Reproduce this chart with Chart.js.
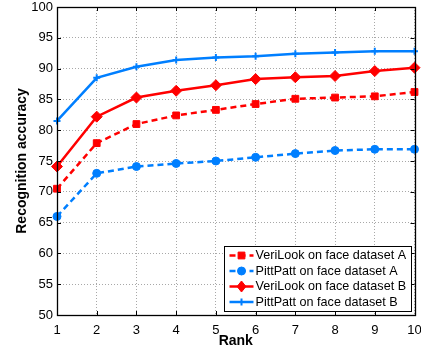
<!DOCTYPE html>
<html>
<head>
<meta charset="utf-8">
<script src="https://cdn.jsdelivr.net/npm/chart.js@4/dist/chart.umd.min.js"></script>
<style>
  html, body { margin: 0; padding: 0; background: #fff; }
  #wrap { width: 421px; height: 351px; }
</style>
</head>
<body>
<div id="wrap"><canvas id="c" width="421" height="351"></canvas></div>
<script>
const ranks = ['1','2','3','4','5','6','7','8','9','10'];
const yTicks = [50,55,60,65,70,75,80,85,90,95,100];
const seriesLabels = [
  'VeriLook on face dataset A',
  'PittPatt on face dataset A',
  'VeriLook on face dataset B',
  'PittPatt on face dataset B'
];
const veriLookA = [70.5, 77.9, 81.0, 82.4, 83.3, 84.25, 85.1, 85.3, 85.5, 86.2];
const pittPattA = [66.0, 73.0, 74.1, 74.6, 75.0, 75.6, 76.2, 76.7, 76.9, 76.9];
const veriLookB = [74.1, 82.2, 85.3, 86.4, 87.3, 88.3, 88.6, 88.8, 89.6, 90.15];
const pittPattB = [81.5, 88.5, 90.3, 91.4, 91.8, 92.0, 92.4, 92.6, 92.8, 92.8];

const RED = '#ff0000';
const BLUE = 'rgb(0,127,255)';
const FONT = '"Liberation Sans", Arial, Helvetica, sans-serif';

function ds(label, data, color, style, radius, dashed, bw) {
  return {
    label, data,
    borderColor: color, backgroundColor: color,
    pointBackgroundColor: color, pointBorderColor: color,
    pointStyle: style, pointRadius: radius, pointHoverRadius: radius,
    pointBorderWidth: bw,
    borderWidth: 2.5, borderDash: dashed ? [6, 4] : [],
    tension: 0, fill: false
  };
}

const datasets = [
  ds(seriesLabels[0], veriLookA, RED, 'rect', 4.8, true, 1),
  ds(seriesLabels[1], pittPattA, BLUE, 'circle', 4, true, 1),
  ds(seriesLabels[2], veriLookB, RED, 'rectRot', 5.5, false, 1),
  ds(seriesLabels[3], pittPattB, BLUE, 'cross', 3.5, false, 2)
];

function drawMarker(ctx, style, x, y, r, color, bw) {
  ctx.save();
  ctx.fillStyle = color; ctx.strokeStyle = color; ctx.lineWidth = bw; ctx.setLineDash([]);
  ctx.beginPath();
  if (style === 'rect') {
    const s = r * Math.SQRT1_2;
    ctx.rect(x - s, y - s, 2 * s, 2 * s); ctx.fill(); ctx.stroke();
  } else if (style === 'circle') {
    ctx.arc(x, y, r, 0, Math.PI * 2); ctx.fill(); ctx.stroke();
  } else if (style === 'rectRot') {
    ctx.moveTo(x, y - r); ctx.lineTo(x + r * 0.8, y); ctx.lineTo(x, y + r); ctx.lineTo(x - r * 0.8, y); ctx.closePath();
    ctx.fill(); ctx.stroke();
  } else if (style === 'cross') {
    ctx.moveTo(x - r, y); ctx.lineTo(x + r, y); ctx.moveTo(x, y - r); ctx.lineTo(x, y + r); ctx.stroke();
  }
  ctx.restore();
}

const framePlugin = {
  id: 'frame',
  afterDraw(chart) {
    const {ctx, chartArea: ca, scales: {x, y}} = chart;
    ctx.save();
    ctx.strokeStyle = '#000'; ctx.lineWidth = 1; ctx.setLineDash([]);
    ctx.beginPath();
    x.ticks.forEach((t, i) => {
      const px = Math.round(x.getPixelForTick(i)) + 0.5;
      ctx.moveTo(px, ca.bottom); ctx.lineTo(px, ca.bottom - 4);
      ctx.moveTo(px, ca.top); ctx.lineTo(px, ca.top + 4);
    });
    y.ticks.forEach((t, i) => {
      const py = Math.round(y.getPixelForTick(i)) + 0.5;
      ctx.moveTo(ca.left, py); ctx.lineTo(ca.left + 4, py);
      ctx.moveTo(ca.right, py); ctx.lineTo(ca.right - 4, py);
    });
    ctx.stroke();
    ctx.lineWidth = 1.3;
    ctx.strokeRect(Math.round(ca.left) + 0.5, Math.round(ca.top) + 0.5,
      Math.round(ca.right - ca.left), Math.round(ca.bottom - ca.top));

    // legend
    const w = 187, h = 65;
    const x0 = Math.round(ca.right - 4 - w) + 0.5, y0 = Math.round(ca.bottom - 4 - h) + 0.5;
    ctx.fillStyle = '#fff'; ctx.fillRect(x0, y0, w, h);
    ctx.lineWidth = 1; ctx.strokeStyle = '#000'; ctx.strokeRect(x0, y0, w, h);
    ctx.font = '12.6px ' + FONT; ctx.textBaseline = 'middle'; ctx.textAlign = 'left';
    chart.data.datasets.forEach((d, i) => {
      const cy = y0 + 9 + i * 15.5;
      const lx0 = x0 + 5, lx1 = x0 + 29, mx = (lx0 + lx1) / 2;
      ctx.save();
      ctx.strokeStyle = d.borderColor; ctx.lineWidth = d.borderWidth;
      ctx.setLineDash(d.borderDash);
      ctx.beginPath(); ctx.moveTo(lx0, cy); ctx.lineTo(lx1, cy); ctx.stroke();
      ctx.restore();
      drawMarker(ctx, d.pointStyle, mx, cy, d.pointRadius, d.borderColor, d.pointBorderWidth);
      ctx.fillStyle = '#000';
      ctx.fillText(d.label, x0 + 31, cy + 0.5);
    });
    ctx.restore();
  }
};

new Chart(document.getElementById('c'), {
  type: 'line',
  data: { labels: ranks, datasets },
  plugins: [framePlugin],
  options: {
    responsive: false,
    animation: false,
    devicePixelRatio: 1,
    layout: { padding: { left: 0, right: 6, top: 7, bottom: 0 } },
    plugins: { legend: { display: false }, tooltip: { enabled: false } },
    scales: {
      x: {
        type: 'category',
        offset: false,
        grid: { color: '#a8a8a8', lineWidth: 1, drawTicks: false, offset: false },
        border: { display: false, dash: [1, 2] },
        ticks: { color: '#000', font: { family: FONT, size: 13 }, padding: 8, maxRotation: 0, autoSkip: false },
        title: { display: true, text: 'Rank', color: '#000', font: { family: FONT, size: 14, weight: 'bold' }, padding: { top: 0, bottom: 1 } },
        afterFit(axis) { axis.height = 36; axis.paddingLeft = 0; axis.paddingRight = 0; }
      },
      y: {
        min: 50, max: 100,
        afterBuildTicks(axis) { axis.ticks = yTicks.map(v => ({ value: v })); },
        grid: { color: '#a8a8a8', lineWidth: 1, drawTicks: false },
        border: { display: false, dash: [1, 2] },
        ticks: { color: '#000', font: { family: FONT, size: 13 }, padding: 4 },
        title: { display: true, text: 'Recognition accuracy', color: '#000', font: { family: FONT, size: 14, weight: 'bold' }, padding: { top: 14, bottom: 0 } },
        afterFit(axis) { axis.width = 57; axis.paddingTop = 0; axis.paddingBottom = 0; }
      }
    }
  }
});
</script>
</body>
</html>
